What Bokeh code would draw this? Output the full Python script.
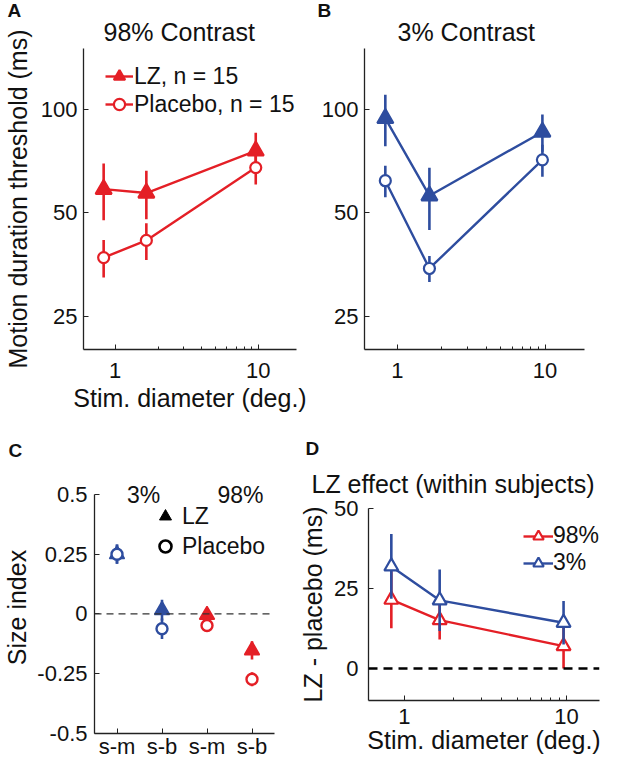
from bokeh.plotting import figure
from bokeh.models import (FixedTicker, PrintfTickFormatter, Label, Legend, LegendItem,
                          Span, Range1d, Title)
from bokeh.layouts import row, column
from bokeh.embed import file_html
from bokeh.resources import INLINE

RED = "#e41f26"
BLUE = "#2e4d9f"
FONT = "Liberation Sans"
NAN = float("nan")

# ---------------- data ----------------
diam = [0.83, 1.65, 9.6]                      # stimulus diameter (deg.)
x_major = [1, 10]
x_minor = [2, 3, 4, 5, 6, 7, 8, 9]
y_ticks_ab = [25, 50, 100]

a_lz = [58.5, 57.0, 75.6]
a_lz_err = [11.0, 9.2, 9.8]
a_pl = [37.0, 41.5, 67.6]
a_pl_err = [4.6, 5.1, 7.2]

b_lz = [94.0, 56.0, 85.8]
b_lz_err = [16.0, 11.5, 10.7]
b_pl = [61.9, 34.4, 71.2]
b_pl_err = [6.5, 3.0, 7.6]

c_labels = ["s-m", "s-b", "s-m", "s-b"]
c_contrast = ["3%", "3%", "98%", "98%"]
c_lz = [0.25, 0.016, -0.004, -0.152]
c_lz_err = [0.04, 0.043, 0.029, 0.038]
c_pl = [0.25, -0.062, -0.048, -0.273]
c_pl_err = [0.04, 0.043, 0.027, 0.029]
c_yticks = [-0.5, -0.25, 0, 0.25, 0.5]
c_ytick_labels = ["-0.5", "-0.25", "0", "0.25", "0.5"]

d_98 = [21.5, 15.1, 7.0]
d_98_err = [8.9, 6.0, 7.0]
d_3 = [31.9, 21.3, 14.3]
d_3_err = [10.1, 9.6, 6.8]
d_yticks = [0, 25, 50]


def make_fig(w, h, bl, br, bt, bb, xtype, ytype, xr, yr):
    p = figure(width=w, height=h, x_axis_type=xtype, y_axis_type=ytype,
               x_range=xr, y_range=yr, toolbar_location=None, output_backend="svg",
               min_border_left=bl, min_border_right=br, min_border_top=bt,
               min_border_bottom=bb)
    p.outline_line_color = None
    p.grid.visible = False
    for ax in p.axis:
        ax.axis_line_width = 1.3
        ax.axis_line_color = "#222222"
        ax.major_tick_line_color = "#222222"
        ax.minor_tick_line_color = "#222222"
        ax.major_tick_in = 5
        ax.major_tick_out = 0
        ax.minor_tick_in = 3
        ax.minor_tick_out = 0
        ax.major_label_text_font = FONT
        ax.major_label_text_font_size = "22px"
        ax.major_label_text_color = "#111111"
        ax.axis_label_text_font = FONT
        ax.axis_label_text_font_size = "25px"
        ax.axis_label_text_font_style = "normal"
        ax.axis_label_text_color = "#111111"
    return p


def add_title(p, text, size, offset, standoff, bold=False, valign="bottom"):
    p.add_layout(Title(text=text, align="left", offset=offset, standoff=standoff,
                       vertical_align=valign,
                       text_font=FONT, text_font_size=f"{size}px",
                       text_font_style="bold" if bold else "normal",
                       text_color="#111111"), "above")


def add_label(p, x, y, text, size):
    p.add_layout(Label(x=x, y=y, x_units="screen", y_units="screen", text=text,
                       text_font=FONT, text_font_size=f"{size}px", text_align="center",
                       text_baseline="middle", text_color="#111111"))


def errbars(p, xs, m, e, color, lw=2.6):
    lo = [a - b for a, b in zip(m, e)]
    hi = [a + b for a, b in zip(m, e)]
    p.segment(x0=xs, y0=lo, x1=xs, y1=hi, line_color=color, line_width=lw)


def log_panel(p):
    p.xaxis.ticker = FixedTicker(ticks=x_major, minor_ticks=x_minor)
    p.xaxis.formatter = PrintfTickFormatter(format="%d")
    p.yaxis.ticker = FixedTicker(ticks=y_ticks_ab, minor_ticks=[])
    p.yaxis.formatter = PrintfTickFormatter(format="%d")
    p.xaxis.major_label_standoff = 13
    p.yaxis.major_label_standoff = 6


def series(p, xs, m, e, color, marker, size, fill):
    errbars(p, xs, m, e, color)
    l = p.line(xs, m, line_color=color, line_width=2.4)
    s = p.scatter(xs, m, marker=marker, size=size, fill_color=fill, line_color=color,
                  line_width=2.2)
    return l, s


def legend(items, loc, gw, gh, standoff):
    return Legend(items=items, location=loc, glyph_width=gw, glyph_height=gh,
                  label_height=gh, spacing=0, padding=0, margin=0,
                  label_standoff=standoff, border_line_color=None,
                  background_fill_alpha=0, label_text_font=FONT,
                  label_text_font_size="23px", label_text_color="#111111")


# ---------------- Panel A ----------------
pa = make_fig(306, 420, 78, 10, 48, 71, "log", "log", Range1d(0.6, 18.5), Range1d(20, 150))
log_panel(pa)
pa.xaxis.axis_label = "Stim. diameter (deg.)"
pa.xaxis.axis_label_standoff = 3
pa.yaxis.axis_label = "Motion duration threshold (ms)"
pa.yaxis.axis_label_standoff = 6
la, sa = series(pa, diam, a_lz, a_lz_err, RED, "triangle", 16, RED)
lb, sb = series(pa, diam, a_pl, a_pl_err, RED, "circle", 11, "white")
pa.add_layout(legend([LegendItem(label="LZ, n = 15", renderers=[la, sa]),
                      LegendItem(label="Placebo, n = 15", renderers=[lb, sb])],
                     (22, 231), 28, 28, 1))
add_title(pa, "98% Contrast", 25, 20, 6)
add_title(pa, "A", 19, -76, -16, bold=True)

# ---------------- Panel B ----------------
pb = make_fig(295, 420, 58, 17, 48, 71, "log", "log", Range1d(0.6, 18.5), Range1d(20, 150))
log_panel(pb)
pb.xaxis.axis_label = " "
pb.xaxis.axis_label_standoff = 3
series(pb, diam, b_lz, b_lz_err, BLUE, "triangle", 16, BLUE)
series(pb, diam, b_pl, b_pl_err, BLUE, "circle", 11, "white")
add_title(pb, "3% Contrast", 25, 33, 6)
add_title(pb, "B", 19, -47, -16, bold=True)

# ---------------- Panel C ----------------
c_pos = [i + 1 for i in range(len(c_labels))]
c_col = [BLUE if c == "3%" else RED for c in c_contrast]
pc = make_fig(296, 341, 89, 22, 60, 26, "linear", "linear", Range1d(0.5, 4.5),
              Range1d(-0.5, 0.554))
pc.xaxis.ticker = FixedTicker(ticks=c_pos, minor_ticks=[])
pc.xaxis.major_label_overrides = {p_: l_ for p_, l_ in zip(c_pos, c_labels)}
pc.yaxis.ticker = FixedTicker(ticks=c_yticks, minor_ticks=[])
pc.yaxis.major_label_overrides = {t: s for t, s in zip(c_yticks, c_ytick_labels)}
pc.yaxis.bounds = (c_yticks[0], c_yticks[-1])
pc.xaxis.major_label_standoff = 0
pc.yaxis.major_label_standoff = 7
pc.yaxis.axis_label = "Size index"
pc.yaxis.axis_label_standoff = 3
pc.add_layout(Span(location=0, dimension="width", line_color="#333333", line_width=1.2,
                   line_dash="7 5"))
for i in range(len(c_pos)):
    errbars(pc, [c_pos[i]], [c_lz[i]], [c_lz_err[i]], c_col[i])
    errbars(pc, [c_pos[i]], [c_pl[i]], [c_pl_err[i]], c_col[i])
pc.scatter(c_pos, c_lz, marker="triangle", size=15, fill_color=c_col, line_color=c_col,
           line_width=1.5)
pc.scatter(c_pos, c_pl, marker="circle", size=11, fill_color="white", line_color=c_col,
           line_width=2.4)
# legend proxies (not drawn: NaN position)
proxy_t = pc.scatter([NAN], [NAN], marker="triangle", fill_color="black",
                     line_color="black")
proxy_c = pc.scatter([NAN], [NAN], marker="circle", fill_color="white",
                     line_color="black", line_width=2.6)
pc.add_layout(legend([LegendItem(label="LZ", renderers=[proxy_t]),
                      LegendItem(label="Placebo", renderers=[proxy_c])],
                     (56, 172), 30, 30, 2))
add_label(pc, 49, 239, "3%", 23)
add_label(pc, 146, 239, "98%", 23)
add_title(pc, "C", 19, -86, 38, bold=True, valign="top")

# ---------------- Panel D ----------------
pd_ = make_fig(305, 341, 67, 2, 88, 61, "log", "linear", Range1d(0.6, 16.0), Range1d(-10, 50))
pd_.xaxis.ticker = FixedTicker(ticks=x_major, minor_ticks=x_minor)
pd_.xaxis.formatter = PrintfTickFormatter(format="%d")
pd_.yaxis.ticker = FixedTicker(ticks=d_yticks, minor_ticks=[])
pd_.xaxis.major_label_standoff = 8
pd_.yaxis.major_label_standoff = 10
pd_.xaxis.axis_label = "Stim. diameter (deg.)"
pd_.xaxis.axis_label_standoff = -1
pd_.yaxis.axis_label = "LZ - placebo (ms)"
pd_.yaxis.axis_label_standoff = 4
pd_.add_layout(Span(location=0, dimension="width", line_color="black", line_width=2.4,
                    line_dash="9 6"))
l98, s98 = series(pd_, diam, d_98, d_98_err, RED, "triangle", 14, "white")
l3, s3 = series(pd_, diam, d_3, d_3_err, BLUE, "triangle", 14, "white")
pd_.add_layout(legend([LegendItem(label="98%", renderers=[l98, s98]),
                       LegendItem(label="3%", renderers=[l3, s3])],
                      (155, 124), 30, 26, 0))
add_title(pd_, "LZ effect (within subjects)", 25, -57, 22)
add_title(pd_, "D", 19, -63, -5, bold=True)

layout = column(row(column(pa), column(pb), spacing=0),
                row(column(pc), column(pd_), spacing=0), spacing=0)
open("out.html", "w").write(file_html(layout, INLINE))
